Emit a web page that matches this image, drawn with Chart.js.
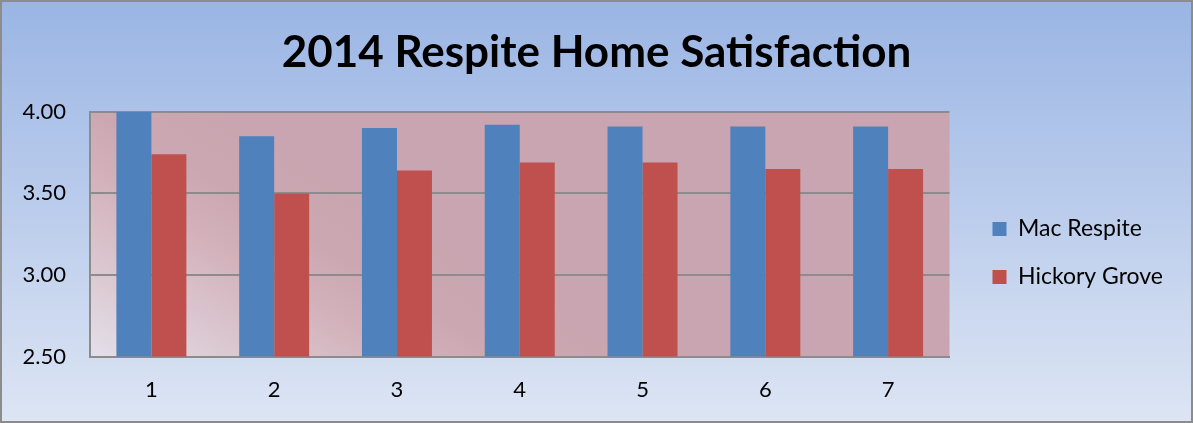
<!DOCTYPE html>
<html>
<head>
<meta charset="utf-8">
<script src="https://cdn.jsdelivr.net/npm/chart.js@4/dist/chart.umd.min.js"></script>
<style>
  html, body { margin: 0; padding: 0; background: #fff; }
  #wrap { width: 1193px; height: 423px; }
</style>
</head>
<body>
<div id="wrap"><canvas id="chart" width="1193" height="423"></canvas></div>
<script>
const categories = ["1", "2", "3", "4", "5", "6", "7"];
const macRespite = [4.00, 3.85, 3.90, 3.92, 3.91, 3.91, 3.91];
const hickoryGrove = [3.74, 3.50, 3.64, 3.69, 3.69, 3.65, 3.65];
const yTicks = [2.5, 3.0, 3.5, 4.0];

// backgrounds: outer blue gradient + pinkish plot area, grey frame
const backgrounds = {
  id: "backgrounds",
  beforeDraw(chart) {
    const ctx = chart.ctx;
    const w = chart.width, h = chart.height;
    ctx.save();
    let g = ctx.createLinearGradient(0, 0, 0, h);
    g.addColorStop(0, "#9ab5e4");
    g.addColorStop(1, "#dde5f4");
    ctx.fillStyle = g;
    ctx.fillRect(0, 0, w, h);

    const a = chart.chartArea;
    const ph = a.bottom - a.top;
    g = ctx.createLinearGradient(a.left, a.bottom, a.left + ph * 0.6, a.top);
    g.addColorStop(0, "#e3e0ea");
    g.addColorStop(0.25, "#dccad2");
    g.addColorStop(0.55, "#d3b2bc");
    g.addColorStop(0.75, "#cba7b2");
    g.addColorStop(1, "#c9a5b1");
    ctx.fillStyle = g;
    ctx.fillRect(a.left, a.top, a.right - a.left, ph);
    ctx.restore();
  },
  afterDraw(chart) {
    const ctx = chart.ctx;
    ctx.save();
    ctx.strokeStyle = "#8c8c8c";
    ctx.lineWidth = 2;
    ctx.strokeRect(1, 1, chart.width - 2, chart.height - 2);
    ctx.restore();
  }
};

new Chart(document.getElementById("chart"), {
  type: "bar",
  data: {
    labels: categories,
    datasets: [
      {
        label: "Mac Respite",
        data: macRespite,
        backgroundColor: "#4f81bd",
        borderWidth: 0,
      },
      {
        label: "Hickory Grove",
        data: hickoryGrove,
        backgroundColor: "#c0504d",
        borderWidth: 0,
      },
    ],
  },
  options: {
    responsive: false,
    animation: false,
    devicePixelRatio: 1,
    datasets: {
      bar: { categoryPercentage: 0.57, barPercentage: 1.0 },
    },
    layout: { padding: { left: 20, right: 20, top: 0, bottom: 0 } },
    plugins: {
      title: {
        display: true,
        text: "2014 Respite Home Satisfaction",
        color: "#000",
        font: { family: "Lato", size: 44, weight: "bold" },
        padding: { top: 26, bottom: 33 },
      },
      legend: {
        position: "right",
        maxWidth: 300,
        title: { display: true, text: "", font: { size: 20 }, padding: { top: 59, bottom: 0 } },
        labels: {
          color: "#000",
          font: { family: "Lato", size: 23 },
          boxWidth: 14,
          boxHeight: 14,
          padding: 25,
        },
      },
      tooltip: { enabled: false },
    },
    scales: {
      x: {
        grid: { display: false, drawTicks: false },
        border: { color: "#8c8c8c", width: 2 },
        ticks: {
          color: "#000",
          font: { family: "Lato", size: 22 },
          padding: 20,
        },
      },
      y: {
        min: yTicks[0],
        max: yTicks[yTicks.length - 1],
        clip: false,
        afterBuildTicks(axis) {
          axis.ticks = yTicks.map((v) => ({ value: v }));
        },
        afterFit(axis) {
          axis.width = 70;
        },
        grid: { color: "#8c8c8c", lineWidth: 2, drawTicks: false },
        border: { color: "#8c8c8c", width: 2 },
        ticks: {
          color: "#000",
          font: { family: "Lato", size: 22 },
          padding: 24,
          callback: (v) => Number(v).toFixed(2),
        },
      },
      // empty axis, only keeps a gap between plot area and legend
      gap: {
        type: "linear",
        position: "right",
        display: true,
        grid: { display: false },
        border: { display: false },
        ticks: { display: false },
        afterFit(axis) {
          axis.width = 18;
        },
      },
    },
  },
  plugins: [backgrounds],
});
</script>
</body>
</html>
